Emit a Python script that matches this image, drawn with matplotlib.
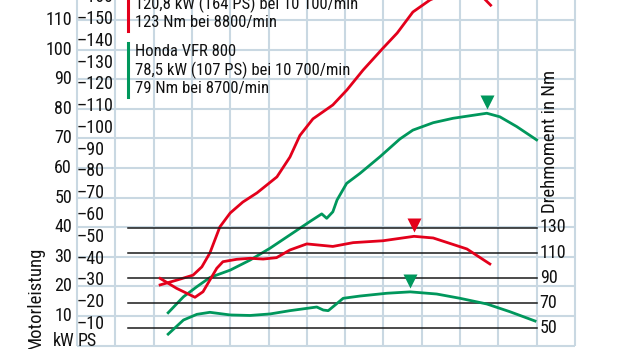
import matplotlib
matplotlib.use("Agg")
import matplotlib.pyplot as plt
import matplotlib.transforms as mtransforms
from matplotlib import font_manager as fm

# ---------------- data ----------------
red_power_rpm = [2170, 2600, 3030, 3260, 3470, 3730, 4000, 4330, 4700, 5220, 5560, 5820,
                 6160, 6680, 7050, 7470, 7990, 8360, 8770, 9220, 9700, 10100, 10500, 10800]
red_power_kw = [20.5, 22.1, 23.8, 26.6, 31.3, 40.1, 44.8, 48.5, 51.6, 57.0, 63.7, 71.0,
                76.6, 81.3, 86.4, 93.1, 100.5, 105.6, 112.7, 116.8, 119.5, 120.8, 119.0, 115.0]

red_torque_rpm = [2170, 2600, 3080, 3290, 3470, 3650, 3810, 4170, 4520, 4860, 5210, 5560,
                  6000, 6680, 7210, 7990, 8800, 9300, 10180, 10780]
red_torque_nm = [89.7, 81.8, 74.7, 79.1, 88.4, 97.7, 102.9, 104.8, 105.6, 105.0, 106.1, 112.2,
                 117.0, 115.0, 118.0, 119.5, 123.0, 121.7, 113.0, 101.1]

green_power_rpm = [2380, 2780, 3130, 3470, 4000, 4520, 5040, 5560, 6080, 6390, 6520, 6680,
                   6790, 7040, 7390, 7910, 8430, 8770, 9300, 9820, 10700, 11040, 11480, 12000]
green_power_kw = [11.1, 16.5, 19.9, 23.0, 25.5, 28.9, 32.9, 37.4, 41.9, 44.5, 43.0, 45.2,
                  49.2, 54.8, 58.2, 63.8, 69.8, 72.8, 75.3, 76.8, 78.5, 77.3, 74.0, 69.5]

green_torque_rpm = [2380, 2780, 3130, 3470, 4000, 4520, 5040, 5560, 6260, 6430, 6560, 6740,
                    6950, 7390, 8090, 8700, 9390, 10000, 10700, 11300, 11960]
green_torque_nm = [45.5, 56.7, 61.2, 62.8, 60.7, 60.3, 61.5, 64.1, 67.0, 64.6, 64.1, 68.6,
                   73.9, 75.7, 77.9, 79.0, 77.3, 73.9, 69.4, 63.3, 55.9]

power_peaks_rpm = [10100, 10700]
power_peaks_kw = [120.8, 78.5]
torque_peaks_rpm = [8800, 8700]
torque_peaks_nm = [123, 79]

kw_ticks = [10, 20, 30, 40, 50, 60, 70, 80, 90, 100, 110]
ps_ticks = [10, 20, 30, 40, 50, 60, 70, 80, 90, 100, 110, 120, 130, 140, 150, 160]
nm_ticks = [50, 70, 90, 110, 130]
rpm_grid = list(range(0, 14000, 1000))
kw_grid = list(range(0, 120, 10))

legend_red = ["120,8 kW (164 PS) bei 10 100/min", "123 Nm bei 8800/min"]
legend_green = ["Honda VFR 800", "78,5 kW (107 PS) bei 10 700/min", "79 Nm bei 8700/min"]

RED = "#e3001b"
GREEN = "#00975c"
GRID = "#c9d8e2"

# ---------------- fonts ----------------
names = {f.name for f in fm.fontManager.ttflist}
if "Liberation Sans Narrow" in names:
    FONT = dict(family="Liberation Sans Narrow")
elif "Roboto Condensed" in names:
    FONT = dict(family="Roboto Condensed")
else:
    FONT = dict(family="DejaVu Sans", stretch="condensed")

W, H = 620, 349
fig = plt.figure(figsize=(W / 100, H / 100), dpi=100)
fig.patch.set_facecolor("white")

# pixel mapping: x_pix = 77 + rpm*0.0383 ; y_pix = 345.6 - kW*2.96
x0, sx = 77.0, 0.0383
ky0, sky = 345.6, 2.96
ny130, sny = 227.5, 1.262

ax = fig.add_axes([0, 0, 1, 1])
ax.set_xlim(-x0 / sx, (W - x0) / sx)
ax.set_ylim((ky0 - H) / sky, ky0 / sky)
ax.axis("off")

ax2 = fig.add_axes([0, 0, 1, 1], sharex=ax)
ax2.set_ylim(130 - (H - ny130) / sny, 130 + ny130 / sny)
ax2.axis("off")
ax2.patch.set_alpha(0)


def px(x, y):
    return (x / W, 1 - y / H)


# grid
for r in rpm_grid:
    ax.plot([r, r], [0, 130], color=GRID, lw=1.5, zorder=1, solid_capstyle="butt")
for k in kw_grid:
    ax.plot([0, 13000], [k, k], color=GRID, lw=1.5, zorder=1, solid_capstyle="butt")

# torque reference lines
for n in nm_ticks:
    ax2.plot([1330, 12010], [n, n], color="#1a1a1a", lw=1.1, zorder=2)
    ax2.text(12080, n, str(n), ha="left", va="center", fontsize=13, color="#111111", **FONT)

# tick labels
for k in kw_ticks:
    ax.text(-130, k, str(k), ha="right", va="center", fontsize=13, color="#111111", **FONT)
for p in ps_ticks:
    ax.text(0, p * 0.7355, "\u2013" + str(p), ha="left", va="center", fontsize=13,
            color="#111111", **FONT)

# curves
ax.plot(red_power_rpm, red_power_kw, color=RED, lw=2.0, zorder=4, solid_joinstyle="round")
ax.plot(green_power_rpm, green_power_kw, color=GREEN, lw=2.0, zorder=4, solid_joinstyle="round")
ax2.plot(red_torque_rpm, red_torque_nm, color=RED, lw=2.0, zorder=4, solid_joinstyle="round")
ax2.plot(green_torque_rpm, green_torque_nm, color=GREEN, lw=2.0, zorder=4, solid_joinstyle="round")

# peak markers
off = mtransforms.ScaledTranslation(0, 8 / 72, fig.dpi_scale_trans)
for r, k, c in zip(power_peaks_rpm, power_peaks_kw, [RED, GREEN]):
    ax.plot([r], [k], marker="v", ms=10, color=c, mec="none", zorder=5,
            transform=ax.transData + off)
for r, n, c in zip(torque_peaks_rpm, torque_peaks_nm, [RED, GREEN]):
    ax2.plot([r], [n], marker="v", ms=10, color=c, mec="none", zorder=5,
             transform=ax2.transData + off)

# legend blocks
fig.add_artist(plt.Line2D([128 / W, 128 / W], [1 - 0 / H, 1 - 31 / H], color=RED, lw=2.2))
for i, t in enumerate(legend_red):
    fig.text(*px(135, 4 + 19 * i), t, ha="left", va="center", fontsize=12, color="#111111", **FONT)
fig.add_artist(plt.Line2D([128 / W, 128 / W], [1 - 43 / H, 1 - 97 / H], color=GREEN, lw=2.2))
for i, t in enumerate(legend_green):
    fig.text(*px(135, 52 + 18.5 * i), t, ha="left", va="center", fontsize=12, color="#111111", **FONT)

# axis titles
fig.text(*px(36, 298), "Motorleistung", rotation=90, ha="center", va="center",
         fontsize=13.5, color="#111111", **FONT)
fig.text(*px(550, 141), "Drehmoment in Nm", rotation=90, ha="center", va="center",
         fontsize=13.5, color="#111111", **FONT)
fig.text(*px(64, 341), "kW", ha="center", va="center", fontsize=13, color="#111111", **FONT)
fig.text(*px(87, 341), "PS", ha="center", va="center", fontsize=13, color="#111111", **FONT)

fig.savefig("out.png", dpi=100)
